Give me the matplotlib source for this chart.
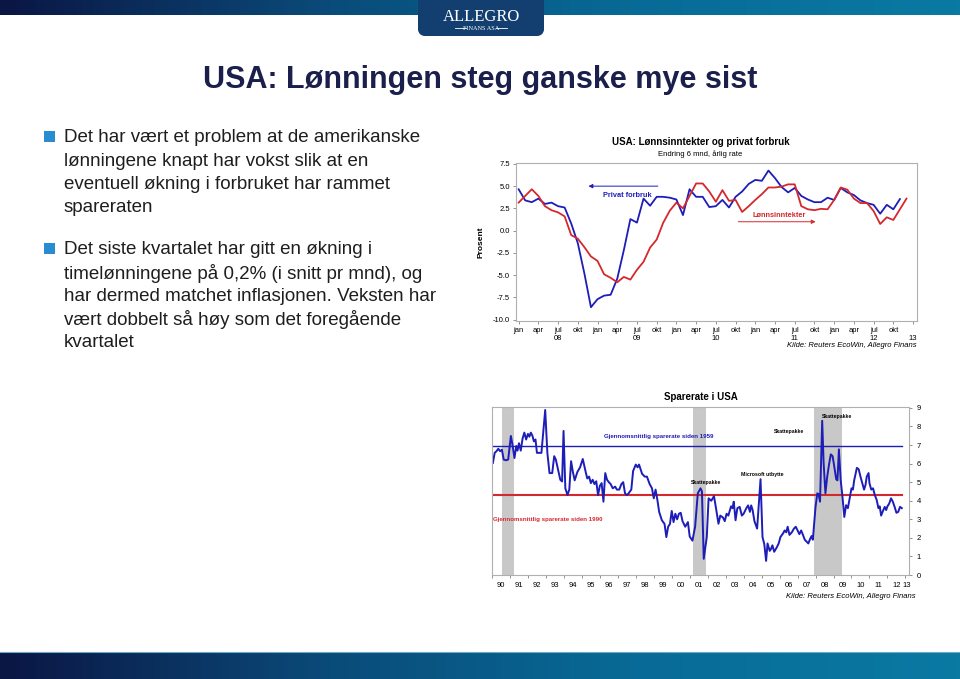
import matplotlib
matplotlib.use("Agg")
import matplotlib.pyplot as plt
import numpy as np
from matplotlib.patches import FancyBboxPatch, Rectangle
import matplotlib.transforms as mtransforms

plt.rcParams['font.family'] = ['Liberation Sans', 'DejaVu Sans']

W, H = 960, 679

# --- Data: lønnsinntekter og privat forbruk (endring 6 mnd, årlig rate), jan 08 ->
forbruk = [4.65, 3.4, 3.2, 3.6, 3.0, 3.15, 2.75, 2.6, 0.8, -1.4, -4.8, -8.6,
           -7.7, -7.3, -7.2, -5.4, -2.2, 1.3, 0.9, 3.6, 2.8, 3.8, 3.8, 3.7,
           3.5, 1.75, 4.65, 3.8, 3.8, 2.65, 2.75, 3.45, 2.6, 3.8, 4.4, 5.25,
           5.7, 5.6, 6.75, 5.9, 4.9, 4.3, 4.8, 3.9, 3.5, 3.2, 3.2, 3.7,
           3.45, 4.8, 4.3, 4.0, 3.4, 3.1, 2.9, 1.9, 2.9, 2.4, 3.55]
lonn = [3.15, 3.9, 4.65, 3.9, 2.75, 2.3, 2.05, 1.6, -0.5, -0.9, -1.85, -2.9,
        -3.4, -4.9, -5.3, -5.8, -5.2, -5.5, -4.4, -3.5, -1.9, -1.0, 0.9, 2.25,
        3.15, 2.5, 3.9, 5.3, 5.3, 4.4, 3.25, 4.55, 3.35, 3.45, 2.1, 2.75,
        3.45, 4.1, 4.85, 4.85, 4.95, 5.2, 5.2, 2.75, 2.4, 2.3, 2.45, 2.4,
        3.45, 4.85, 4.6, 3.6, 3.1, 3.1, 2.2, 0.75, 1.5, 1.2, 2.4, 3.6]
maaned_navn = ['jan', 'apr', 'jul', 'okt']
aar_top = ['08', '09', '10', '11', '12', '13']

# --- Data: sparerate i USA
spare_tid = [1990.05, 1990.15, 1990.25, 1990.35, 1990.45, 1990.55, 1990.65, 1990.78, 1990.9,
             1991.05, 1991.15, 1991.25, 1991.35, 1991.42, 1991.5, 1991.6, 1991.7, 1991.8, 1991.9,
             1992.0, 1992.08, 1992.16, 1992.25, 1992.33, 1992.42, 1992.5, 1992.75, 1992.96,
             1993.08, 1993.2, 1993.35, 1993.46, 1993.55, 1993.7, 1993.8, 1993.9, 1993.98,
             1994.08, 1994.2, 1994.3, 1994.4, 1994.5, 1994.6, 1994.75, 1994.9,
             1995.05, 1995.2, 1995.3, 1995.4, 1995.5, 1995.6, 1995.7, 1995.8, 1995.9,
             1996.0, 1996.1, 1996.2, 1996.3, 1996.4, 1996.5, 1996.6, 1996.72, 1996.85, 1996.95,
             1997.08, 1997.2, 1997.3, 1997.4, 1997.5, 1997.6, 1997.75, 1997.85,
             1998.0, 1998.1, 1998.18, 1998.35, 1998.5, 1998.62, 1998.77, 1998.9,
             1999.0, 1999.1, 1999.2, 1999.3, 1999.45, 1999.6, 1999.7, 1999.8, 1999.9,
             2000.0, 2000.1, 2000.2, 2000.3, 2000.4, 2000.5, 2000.6, 2000.75, 2000.9,
             2001.0, 2001.15, 2001.3, 2001.45, 2001.6, 2001.68, 2001.78, 2001.87, 2001.95,
             2002.05, 2002.2, 2002.35, 2002.45, 2002.6, 2002.7, 2002.85, 2002.95,
             2003.05, 2003.15, 2003.3, 2003.38, 2003.45, 2003.55, 2003.65, 2003.78, 2003.9,
             2004.0, 2004.15, 2004.25, 2004.35, 2004.42, 2004.5, 2004.6, 2004.75, 2004.94,
             2005.05, 2005.15, 2005.25, 2005.33, 2005.45, 2005.52, 2005.6, 2005.7, 2005.85, 2005.95,
             2006.05, 2006.2, 2006.28, 2006.37, 2006.45, 2006.55, 2006.68, 2006.8, 2006.9,
             2007.0, 2007.1, 2007.2, 2007.3, 2007.4, 2007.5, 2007.6, 2007.7, 2007.78, 2007.85,
             2008.0, 2008.1, 2008.17, 2008.25, 2008.37, 2008.45, 2008.55, 2008.65, 2008.75, 2008.85, 2008.95,
             2009.05, 2009.15, 2009.22, 2009.3, 2009.4, 2009.5, 2009.6, 2009.7, 2009.8, 2009.9,
             2010.0, 2010.08, 2010.15, 2010.3, 2010.4, 2010.5, 2010.6, 2010.7, 2010.78, 2010.85, 2010.95,
             2011.0, 2011.1, 2011.2, 2011.3, 2011.4, 2011.5, 2011.57, 2011.65, 2011.75, 2011.85, 2011.93,
             2012.0, 2012.1, 2012.2, 2012.3, 2012.4, 2012.5, 2012.6, 2012.7, 2012.8]
sparerate = [6.04, 6.58, 6.67, 6.8, 6.67, 6.75, 6.22, 6.18, 6.22,
             7.49, 6.95, 6.3, 6.95, 6.7, 7.1, 6.7, 7.35, 7.67, 7.3,
             7.6, 7.45, 7.67, 7.5, 7.2, 7.3, 6.58, 6.58, 8.89,
             6.58, 5.49, 5.49, 6.4, 6.22, 5.55, 5.13, 5.04, 7.76,
             4.67, 4.31, 4.6, 6.13, 5.55, 5.1, 5.55, 5.8,
             6.25, 5.6, 5.2, 5.3, 4.95, 5.13, 4.9, 5.05, 4.3,
             4.8, 4.95, 3.95, 5.49, 5.13, 5.0, 4.9, 4.67, 4.76, 4.6,
             4.6, 4.9, 5.0, 4.4, 4.3, 4.4, 4.6, 5.6,
             5.95, 5.8, 5.95, 5.45, 5.3, 5.3, 4.9, 4.67,
             4.13, 4.6, 4.05, 3.4, 2.95, 2.75, 2.04, 2.6, 2.75,
             3.45, 2.85, 3.3, 3.0, 3.3, 3.35, 2.9, 2.6, 2.85,
             2.07, 1.85, 2.6, 4.4, 4.67, 4.5, 0.87, 1.5, 2.05,
             4.13, 4.0, 4.25, 3.67, 2.76, 3.2, 3.1, 2.9,
             3.3, 3.2, 3.7, 3.6, 3.95, 2.95, 3.6, 3.67, 3.2,
             3.3, 3.6, 3.75, 3.4, 3.75, 3.5, 2.9, 2.5, 5.16,
             2.04, 1.66, 0.76, 1.7, 1.3, 1.4, 1.6, 1.25, 1.5, 1.7,
             2.05, 2.25, 2.4, 2.3, 2.6, 2.16, 2.3, 2.5, 2.6,
             2.4, 2.2, 2.4, 2.16, 1.9, 1.8, 1.7, 1.95, 2.1, 1.9,
             3.67, 4.4, 4.35, 3.95, 8.31, 6.04, 4.4, 5.3, 5.95, 6.5, 6.4,
             5.8, 5.16, 5.1, 6.77, 5.1, 4.2, 3.13, 3.76, 3.6, 4.13,
             4.67, 4.6, 5.1, 5.77, 5.7, 5.3, 4.95, 4.6, 4.85, 5.3, 5.49,
             4.95, 4.6, 4.67, 4.3, 4.05, 3.6, 3.7, 3.2, 3.45, 3.67, 3.5,
             3.7, 3.85, 4.13, 3.95, 3.67, 3.35, 3.4, 3.67, 3.6]
snitt_1959 = 6.95
snitt_1990 = 4.3
resesjoner = [(1990.55, 1991.25), (2001.18, 2001.9), (2007.92, 2009.47)]
aar_bunn = ['90', '91', '92', '93', '94', '95', '96', '97', '98', '99', '00', '01',
            '02', '03', '04', '05', '06', '07', '08', '09', '10', '11', '12', '13']

BLUE = '#1d1db8'
RED = '#d4282c'
NAVY = '#1b1f4b'


def rect(x0, y0, x1, y1):
    return [x0 / W, 1 - y1 / H, (x1 - x0) / W, (y1 - y0) / H]


fig = plt.figure(figsize=(9.6, 6.79), dpi=100)

# bakgrunn / lysbilde-pynt
bg = fig.add_axes([0, 0, 1, 1])
bg.set_xlim(0, W)
bg.set_ylim(H, 0)
bg.axis('off')
grad = np.linspace(0, 1, 256).reshape(1, -1)
band_cmap = matplotlib.colors.LinearSegmentedColormap.from_list(
    'band', ['#0b1644', '#0a4a78', '#086b97', '#0a7aa3'])
bg.imshow(grad, extent=[0, W, 15, 0], aspect='auto', cmap=band_cmap)
bg.imshow(grad, extent=[0, W, H, 652], aspect='auto', cmap=band_cmap)
bg.plot([0, W], [652, 652], color='#6fa9c4', lw=0.8)
logo = FancyBboxPatch((418, -10), 126, 46, boxstyle='round,pad=0,rounding_size=8',
                      facecolor='#123e70', edgecolor='none')
bg.add_patch(logo)
logo_img = bg.imshow(np.linspace(0, 1, 64).reshape(-1, 1), extent=[418, 544, 36, 0],
                     aspect='auto', cmap=matplotlib.colors.LinearSegmentedColormap.from_list(
                         'logo', ['#0d2452', '#175a8c']))
logo_img.set_clip_path(logo)
bg.text(481, 17, 'ALLEGRO', color='white', fontsize=12, family='Liberation Serif',
        ha='center', va='center')
bg.text(481, 28, 'FINANS ASA', color='white', fontsize=4.5, family='Liberation Serif',
        ha='center', va='center')
bg.plot([455, 466], [28, 28], color='white', lw=0.6)
bg.plot([496, 507], [28, 28], color='white', lw=0.6)

bg.text(480, 80, 'USA: Lønningen steg ganske mye sist', color=NAVY, fontsize=22,
        fontweight='bold', ha='center', va='center')

bullets = [
    (138, ['Det har vært et problem at de amerikanske',
           'lønningene knapt har vokst slik at en',
           'eventuell økning i forbruket har rammet',
           'spareraten']),
    (250, ['Det siste kvartalet har gitt en økning i',
           'timelønningene på 0,2% (i snitt pr mnd), og',
           'har dermed matchet inflasjonen. Veksten har',
           'vært dobbelt så høy som det foregående',
           'kvartalet']),
]
for y0, lines in bullets:
    bg.add_patch(Rectangle((44, y0 - 7), 11, 11, facecolor='#2b8bd0', edgecolor='none'))
    for i, line in enumerate(lines):
        bg.text(64, y0 + i * 23.1, line, fontsize=13.5, color='#1e1e1e', va='center', ha='left')

# --- øvre figur
ax1 = fig.add_axes(rect(516, 163, 917, 321))
mnd = np.arange(len(lonn))
ax1.plot(np.arange(len(forbruk)), forbruk, color=BLUE, lw=1.3)
ax1.plot(mnd, lonn, color=RED, lw=1.3)
ax1.set_xlim(-0.4, 60.6)
ax1.set_ylim(-10.15, 7.6)
ax1.set_yticks([7.5, 5.0, 2.5, 0.0, -2.5, -5.0, -7.5, -10.0])
ax1.set_yticklabels(['7.5', '5.0', '2.5', '0.0', '-2.5', '-5.0', '-7.5', '-10.0'])
xt = np.arange(0, 61, 3)
ax1.set_xticks(xt)
ax1.set_xticklabels([maaned_navn[i % 4] if t < 60 else '' for i, t in enumerate(xt)])
ax1.tick_params(labelsize=5.5, length=2.5, width=0.6, color='#808080', pad=2)
for s in ax1.spines.values():
    s.set_color('#b0b0b0')
    s.set_linewidth(0.8)
trans1 = mtransforms.blended_transform_factory(ax1.transData, ax1.transAxes)
for i, lab in enumerate(aar_top):
    xp = 6 + 12 * i if i < 5 else 60
    ax1.text(xp, -0.09, lab, transform=trans1, fontsize=5.5, ha='center', va='top')
ax1.set_ylabel('Prosent', fontsize=6, fontweight='bold', labelpad=6)
ax1.text(0.46, 1.13, 'USA: Lønnsinntekter og privat forbruk', transform=ax1.transAxes,
         fontsize=7, fontweight='bold', ha='center', va='center')
ax1.text(0.46, 1.055, 'Endring 6 mnd, årlig rate', transform=ax1.transAxes,
         fontsize=5.5, ha='center', va='center')
ax1.annotate('', xy=(10.2, 5.0), xytext=(21.6, 5.0),
             arrowprops=dict(arrowstyle='-|>', color=BLUE, lw=0.7, mutation_scale=6))
ax1.text(16.6, 3.9, 'Privat forbruk', color=BLUE, fontsize=5.3, fontweight='bold',
         ha='center', va='center')
ax1.annotate('', xy=(45.6, 1.0), xytext=(33.0, 1.0),
             arrowprops=dict(arrowstyle='-|>', color=RED, lw=0.7, mutation_scale=6))
ax1.text(39.6, 1.7, 'Lønnsinntekter', color=RED, fontsize=5.3, fontweight='bold',
         ha='center', va='center')
ax1.text(1.0, -0.155, 'Kilde: Reuters EcoWin, Allegro Finans', transform=ax1.transAxes,
         fontsize=5.5, style='italic', ha='right', va='center')

# --- nedre figur
ax2 = fig.add_axes(rect(492, 407, 909, 575))
for a, b in resesjoner:
    ax2.axvspan(a, b, color='#c8c8c8', lw=0)
ax2.plot([1990, 2012.8], [snitt_1959, snitt_1959], color=BLUE, lw=1.0)
ax2.plot([1990, 2012.8], [snitt_1990, snitt_1990], color=RED, lw=1.5)
ax2.plot(spare_tid, sparerate, color=BLUE, lw=1.4)
ax2.set_xlim(1990, 2013.2)
ax2.set_ylim(0, 9.05)
ax2.yaxis.tick_right()
ax2.set_yticks(range(0, 10))
ax2.set_xticks(np.arange(1990, 2014))
ax2.set_xticklabels([])
ax2.set_xticks([y + 0.5 for y in range(1990, 2013)] + [2013.1], minor=True)
ax2.set_xticklabels(aar_bunn, minor=True)
ax2.tick_params(axis='x', which='minor', length=0, labelsize=5.5, pad=5)
ax2.tick_params(axis='x', which='major', length=2.5, width=0.6, color='#808080')
ax2.tick_params(axis='y', labelsize=5.5, length=2.5, width=0.6, color='#808080', pad=3)
for s in ax2.spines.values():
    s.set_color('#b0b0b0')
    s.set_linewidth(0.8)
ax2.text(0.5, 1.06, 'Sparerate i USA', transform=ax2.transAxes, fontsize=7,
         fontweight='bold', ha='center', va='center')
ax2.text(1999.25, 7.47, 'Gjennomsnittlig sparerate siden 1959', color=BLUE, fontsize=4.4,
         fontweight='bold', ha='center', va='center')
ax2.text(1990.05, 3.0, 'Gjennomsnittlig sparerate siden 1990', color=RED, fontsize=4.4,
         fontweight='bold', ha='left', va='center')
for xa, ya, txt in [(2001.9, 4.96, 'Skattepakke'), (2005.05, 5.4, 'Microsoft utbytte'),
                    (2006.55, 7.71, 'Skattepakke'), (2009.2, 8.53, 'Skattepakke')]:
    ax2.text(xa, ya, txt, fontsize=3.7, fontweight='bold', ha='center', va='center')
ax2.text(1.017, -0.13, 'Kilde: Reuters EcoWin, Allegro Finans', transform=ax2.transAxes,
         fontsize=5.5, style='italic', ha='right', va='center')

fig.savefig('out.png', dpi=100)
